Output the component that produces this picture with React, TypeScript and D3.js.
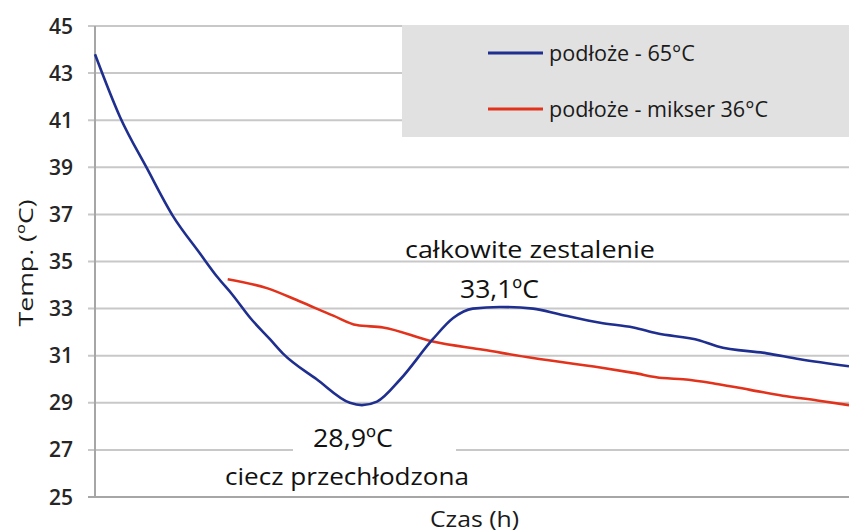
import React from "react";
import * as d3 from "d3";

const W = 849;
const H = 532;

// y axis ticks
const yTicks = [25, 27, 29, 31, 33, 35, 37, 39, 41, 43, 45];

// Series: time index (0..100) and temperature
const blueTime = [0, 3.3, 6.9, 10.3, 13.9, 16.2, 18.2, 20.6, 23.2, 24.9, 29.4, 33.8, 35.4, 37.4, 40.5, 44.8, 47.5, 50.1, 53.7, 58.1, 61.7, 67.0, 71.4, 74.5, 80.2, 82.5, 89.1, 93.5, 100];
const blueTemp = [43.8, 41.15, 38.95, 36.95, 35.35, 34.35, 33.6, 32.6, 31.7, 31.1, 30.0, 29.0, 28.9, 29.05, 30.0, 31.7, 32.6, 33.0, 33.07, 33.0, 32.75, 32.4, 32.2, 31.95, 31.65, 31.4, 31.1, 30.85, 30.55];

const redTime = [17.6, 22.8, 27.2, 31.6, 34.7, 38.2, 44.8, 51.5, 58.1, 67.0, 71.4, 75.3, 78.0, 82.5, 86.9, 91.2, 95.8, 100];
const redTemp = [34.25, 33.87, 33.3, 32.7, 32.3, 32.2, 31.6, 31.25, 30.9, 30.5, 30.27, 30.05, 30.0, 29.8, 29.55, 29.3, 29.1, 28.9];

const seriesNames = ["podłoże - 65°C", "podłoże - mikser 36°C"];
const seriesColors = ["#1f2f8f", "#e2321b"];

const FONT = "'Open Sans', 'Noto Sans', sans-serif";

export default function App() {
  const x = d3.scaleLinear().domain([0, 100]).range([95, 849]);
  const y = d3.scaleLinear().domain([25, 45]).range([497, 26]);

  const line = d3
    .line<[number, number]>()
    .x((d) => x(d[0]))
    .y((d) => y(d[1]))
    .curve(d3.curveMonotoneX);

  const blue = blueTime.map((t, i) => [t, blueTemp[i]] as [number, number]);
  const red = redTime.map((t, i) => [t, redTemp[i]] as [number, number]);

  return (
    <svg
      width={W}
      height={H}
      style={{ position: "absolute", left: 0, top: 0, background: "#fff" }}
      fontFamily={FONT}
    >
      <rect x={0} y={0} width={W} height={H} fill="#fff" />
      {/* gridlines */}
      {yTicks.map((t) => (
        <line
          key={t}
          x1={88}
          x2={849}
          y1={y(t)}
          y2={y(t)}
          stroke={t === 25 ? "#a6a6a6" : "#c8c8c8"}
          strokeWidth={2}
        />
      ))}
      {/* y axis */}
      <line x1={95} x2={95} y1={y(45)} y2={y(25)} stroke="#a6a6a6" strokeWidth={2} />
      {/* tick labels */}
      {yTicks.map((t) => (
        <text
          key={"l" + t}
          x={73}
          y={y(t)}
          dy="0.36em"
          textAnchor="end"
          fontSize={21}
          fontWeight={600}
          fill="#262626"
        >
          {t}
        </text>
      ))}
      {/* legend box */}
      <rect x={402} y={25} width={447} height={112} fill="#e1e1e1" />
      {seriesNames.map((n, i) => (
        <g key={n}>
          <line
            x1={488}
            x2={543}
            y1={53 + i * 56}
            y2={53 + i * 56}
            stroke={seriesColors[i]}
            strokeWidth={3}
          />
          <text
            x={549}
            y={53 + i * 56}
            dy="0.36em"
            fontSize={21}
            fill="#1a1a1a"
            textLength={i === 0 ? 146 : 219}
            lengthAdjust="spacingAndGlyphs"
          >
            {n}
          </text>
        </g>
      ))}
      {/* white box behind min label */}
      <rect x={293} y={424} width={163} height={36} fill="#fff" />
      {/* series */}
      <path d={line(red) || ""} fill="none" stroke={seriesColors[1]} strokeWidth={2.6} />
      <path d={line(blue) || ""} fill="none" stroke={seriesColors[0]} strokeWidth={2.6} />
      {/* annotations */}
      <text x={405} y={258} fontSize={23} fill="#111" textLength={250} lengthAdjust="spacingAndGlyphs">
        całkowite zestalenie
      </text>
      <text x={460} y={298} fontSize={26} fill="#111" textLength={79} lengthAdjust="spacingAndGlyphs">
        33,1ºC
      </text>
      <text x={313} y={447} fontSize={26} fill="#111" textLength={80} lengthAdjust="spacingAndGlyphs">
        28,9ºC
      </text>
      <text x={225} y={485} fontSize={23} fill="#111" textLength={244} lengthAdjust="spacingAndGlyphs">
        ciecz przechłodzona
      </text>
      {/* axis titles */}
      <text x={430} y={527} fontSize={21} fill="#1a1a1a" textLength={89} lengthAdjust="spacingAndGlyphs">
        Czas (h)
      </text>
      <text
        transform={`translate(33,263) rotate(-90)`}
        textAnchor="middle"
        fontSize={20}
        fill="#1a1a1a"
        textLength={127}
        lengthAdjust="spacingAndGlyphs"
      >
        Temp. (ºC)
      </text>
    </svg>
  );
}
